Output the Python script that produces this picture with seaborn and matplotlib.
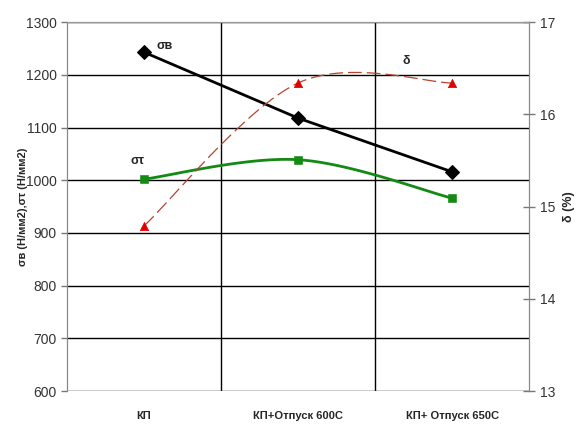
import matplotlib
matplotlib.use("Agg")
import matplotlib.pyplot as plt
import seaborn as sns
import numpy as np

# chart data
categories = ["КП", "КП+Отпуск 600С", "КП+ Отпуск 650С"]
sigma_v = [1243, 1118, 1016]
sigma_t = [1002, 1039, 966]
delta = [14.79, 16.34, 16.34]

sns.set_style("white")
plt.rcParams['font.family'] = ['Liberation Sans', 'DejaVu Sans']


def smooth(y, n=40):
    # excel-like smoothed line (catmull-rom bezier through the points)
    x = np.arange(len(y), dtype=float)
    y = np.asarray(y, dtype=float)
    px, py = [], []
    for i in range(len(y) - 1):
        i0, i3 = max(i - 1, 0), min(i + 2, len(y) - 1)
        c1x = x[i] + (x[i + 1] - x[i0]) / 6
        c1y = y[i] + (y[i + 1] - y[i0]) / 6
        c2x = x[i + 1] - (x[i3] - x[i]) / 6
        c2y = y[i + 1] - (y[i3] - y[i]) / 6
        t = np.linspace(0, 1, n)
        b0, b1, b2, b3 = (1 - t) ** 3, 3 * t * (1 - t) ** 2, 3 * t ** 2 * (1 - t), t ** 3
        px.extend(b0 * x[i] + b1 * c1x + b2 * c2x + b3 * x[i + 1])
        py.extend(b0 * y[i] + b1 * c1y + b2 * c2y + b3 * y[i + 1])
    return np.array(px), np.array(py)


fig = plt.figure(figsize=(5.77, 4.26), dpi=100)
ax = fig.add_axes([0.116, 0.082, 0.801, 0.866])
ax2 = ax.twinx()
pos = np.arange(len(categories))

# σв - straight line
sns.lineplot(x=pos, y=sigma_v, ax=ax, color='black', lw=2, marker='D',
             markersize=7, markeredgecolor='black')
# σт - smoothed
sx, sy = smooth(sigma_t)
sns.lineplot(x=sx, y=sy, ax=ax, color='#138a13', lw=2, sort=False)
sns.scatterplot(x=pos, y=sigma_t, ax=ax, color='#138a13', marker='s', s=28,
                edgecolor='#138a13', zorder=5)
# δ - smoothed dashed on right axis
dx, dy = smooth(delta)
sns.lineplot(x=dx, y=dy, ax=ax2, color='#b5442f', lw=0.9, sort=False)
ax2.lines[-1].set_dashes((11, 4))
sns.scatterplot(x=pos, y=delta, ax=ax2, color='#e00000', marker='^', s=36,
                edgecolor='#e00000', zorder=5)

ax.set_xlim(-0.5, len(categories) - 0.5)
ax.set_ylim(600, 1300)
ax2.set_ylim(13, 17)
ax.set_yticks(range(600, 1301, 100))
ax2.set_yticks([13, 14, 15, 16, 17])

ax.set_xticks(pos)
ax.set_xticklabels(categories, fontsize=8, fontweight='bold')
ax.set_xticks(pos[:-1] + 0.5, minor=True)
ax.tick_params(axis='x', which='both', length=0, pad=14)
ax.grid(True, axis='y', color='black', lw=1)
ax.grid(True, axis='x', which='minor', color='black', lw=1)
ax.set_axisbelow(True)

ax.tick_params(axis='y', length=4, width=1, color='#777777', labelsize=10,
               labelcolor='#333333', left=True, direction='out')
ax2.tick_params(axis='y', length=8, width=1, color='#777777', labelsize=10,
                labelcolor='#333333', right=True, direction='inout')
for a in (ax, ax2):
    for s in a.spines.values():
        s.set_visible(False)
    a.spines['left'].set_visible(True)
    a.spines['right'].set_visible(True)
    a.spines['left'].set_color('#888888')
    a.spines['right'].set_color('#888888')
    a.spines['top'].set_visible(True)
    a.spines['top'].set_color('#999999')

ax.set_ylabel('σв (Н/мм2),στ (Н/мм2)', fontsize=8, fontweight='bold')
ax.yaxis.set_label_coords(-0.085, 0.5)
ax2.set_ylabel('δ (%)', fontsize=9, fontweight='bold', labelpad=6)
ax.set_xlabel('')

ax.text(0.08, 1250, 'σв', fontsize=9, fontweight='bold')
ax.text(-0.09, 1030, 'στ', fontsize=9, fontweight='bold')
ax2.text(1.68, 16.55, 'δ', fontsize=9, fontweight='bold')

fig.savefig('out.png', dpi=100)
